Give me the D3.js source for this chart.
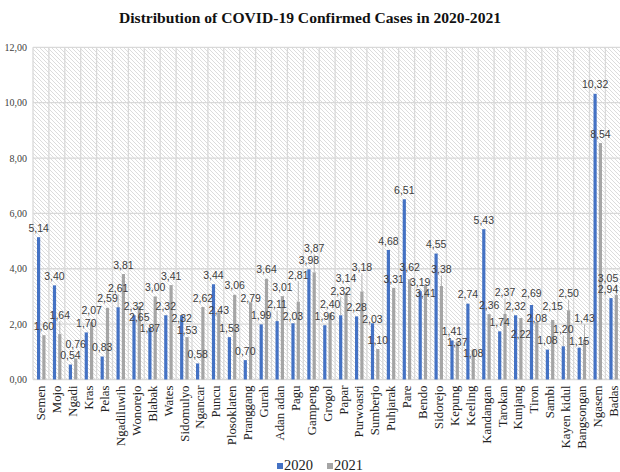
<!DOCTYPE html>
<html><head><meta charset="utf-8">
<script src="https://cdn.jsdelivr.net/npm/d3@7/dist/d3.min.js"></script>
<style>html,body{margin:0;padding:0;background:#fff;}svg{display:block;}</style>
</head><body>
<script>
const categories = ["Semen","Mojo","Ngadi","Kras","Pelas","Ngadiluwih","Wonorejo","Blabak","Wates","Sidomulyo","Ngancar","Puncu","Plosoklaten","Pranggang","Gurah","Adan adan","Pagu","Gampeng","Grogol","Papar","Purwoasri","Sumberjo","Puhjarak","Pare","Bendo","Sidorejo","Kepung","Keeling","Kandangan","Tarokan","Kunjang","Tiron","Sambi","Kayen kidul","Bangsongan","Ngasem","Badas"];
const values2020 = [5.14,3.40,0.54,1.70,0.83,2.61,2.32,1.87,2.32,2.32,0.58,3.44,1.53,0.70,1.99,2.11,2.03,3.98,1.96,2.32,2.28,2.03,4.68,6.51,3.19,4.55,1.41,2.74,5.43,1.74,2.32,2.69,1.08,1.20,1.15,10.32,2.94];
const values2021 = [1.60,1.64,0.76,2.07,2.59,3.81,2.65,3.00,3.41,1.53,2.62,2.43,3.06,2.79,3.64,3.01,2.81,3.87,2.40,3.14,3.18,1.10,3.31,3.62,3.41,3.38,1.37,1.08,2.36,2.37,2.22,2.08,2.15,2.50,1.43,8.54,3.05];
const seriesNames = ["2020","2021"];
const seriesColors = ["#4472c4","#a5a5a5"];
const yTicks = [0,2,4,6,8,10,12];
const title = "Distribution of COVID-19 Confirmed Cases in 2020-2021";

const W = 620, H = 472;
const mLeft = 33, mTop = 47.3, mBottom = 379.5;
const step = 15.9;
const svg = d3.select("body").append("svg").attr("width", W).attr("height", H);

const defs = svg.append("defs");
const pat = defs.append("pattern").attr("id","hatch").attr("patternUnits","userSpaceOnUse")
  .attr("width",4).attr("height",4);
pat.append("rect").attr("width",4).attr("height",4).attr("fill","#ffffff");
pat.append("path").attr("d","M-1,-1 L5,5 M-1,3 L1,5 M3,-1 L5,1").attr("stroke","#dcdcdc").attr("stroke-width",1);

const x0 = d3.scaleBand().domain(categories).range([mLeft, mLeft + categories.length*step]).padding(0);
const x1 = d3.scaleBand().domain(seriesNames).range([4, 12.5]).paddingInner(0.4);
const y = d3.scaleLinear().domain([0,12]).range([mBottom, mTop]);
const fmt = v => d3.format(".2f")(v).replace(".", ",");

// plot background
svg.append("rect").attr("x", mLeft).attr("y", mTop).attr("width", x0.range()[1]-mLeft).attr("height", mBottom-mTop)
  .attr("fill","url(#hatch)");

// horizontal grid
svg.append("g").selectAll("line").data(yTicks).join("line")
  .attr("x1", mLeft).attr("x2", x0.range()[1]).attr("y1", d=>y(d)).attr("y2", d=>y(d))
  .attr("stroke","#d9d9d9").attr("stroke-width",1.3);
// vertical grid
svg.append("g").selectAll("line").data(categories.concat(["__end"])).join("line")
  .attr("x1", (d,i)=>mLeft+i*step).attr("x2",(d,i)=>mLeft+i*step)
  .attr("y1", mTop).attr("y2", mBottom)
  .attr("stroke","#d9d9d9").attr("stroke-width",1.3);

// y axis
const yAxis = d3.axisLeft(y).tickValues(yTicks).tickFormat(fmt).tickSize(0).tickPadding(6);
const ga = svg.append("g").attr("transform",`translate(${mLeft},0)`).call(yAxis);
ga.select(".domain").remove();
ga.selectAll("text").attr("font-family","'Liberation Serif','Times New Roman',serif").attr("font-size","10px").attr("fill","#404040");

// bars
const data = categories.map((c,i)=>({cat:c, vals:[values2020[i], values2021[i]]}));
const groups = svg.append("g").selectAll("g").data(data).join("g")
  .attr("transform", d=>`translate(${x0(d.cat)},0)`);
groups.selectAll("rect").data(d=>d.vals.map((v,k)=>({s:seriesNames[k], v, k}))).join("rect")
  .attr("x", d=>x1(d.s)).attr("width", x1.bandwidth())
  .attr("y", d=>y(d.v)).attr("height", d=>mBottom - y(d.v))
  .attr("fill", d=>seriesColors[d.k]);

// x labels
const xAxis = d3.axisBottom(x0).tickSize(0).tickPadding(0);
const gx = svg.append("g").attr("transform",`translate(0,${mBottom})`).call(xAxis);
gx.select(".domain").remove();
gx.selectAll("text")
  .attr("font-family","'Liberation Serif','Times New Roman',serif").attr("font-size","12.8px").attr("fill","#222")
  .attr("transform","rotate(-90)").attr("text-anchor","end").attr("x",-6).attr("y",0).attr("dy","0.35em");

// data labels with simple collision avoidance
const labels = [];
data.forEach(d=>{
  d.vals.forEach((v,k)=>{
    const bx = x0(d.cat) + x1(seriesNames[k]) + x1.bandwidth()/2;
    labels.push({bx, by:y(v), text:fmt(v), k});
  });
});
const placed = [];
const lw = 22, lh = 10.5;
labels.forEach(l=>{
  const base = l.by - 9;
  let cx = Math.min(l.bx, W - 1 - lw/2);
  let cy = base;
  for (let n=0; n<60; n++){
    const off = (n % 2 === 0 ? -1 : 1) * Math.ceil(n/2) * 2.5;
    const cand = base + off;
    if (cand > mBottom - 6) continue;
    const hit = placed.some(p => Math.abs(p.cx - cx) < lw && Math.abs(p.cy - cand) < lh);
    if (!hit) { cy = cand; break; }
  }
  l.cx = cx; l.cy = cy;
  placed.push(l);
});
const gl = svg.append("g");
gl.selectAll("line").data(labels.filter(l=> l.by - l.cy > 15)).join("line")
  .attr("x1", l=>l.bx).attr("x2", l=>l.bx).attr("y1", l=>l.by).attr("y2", l=>l.cy+6)
  .attr("stroke","#a6a6a6").attr("stroke-width",0.8);
gl.selectAll("text").data(labels).join("text")
  .attr("x", l=>l.cx).attr("y", l=>l.cy).attr("dy","0.35em").attr("text-anchor","middle")
  .attr("font-family","'Liberation Sans',Arial,sans-serif").attr("font-size","10.5px").attr("fill","#404040")
  .text(l=>l.text);

// title
svg.append("text").attr("x", 310).attr("y", 23).attr("text-anchor","middle")
  .attr("font-family","'Liberation Serif','Times New Roman',serif").attr("font-weight","bold").attr("font-size","15.6px")
  .attr("fill","#111").text(title);

// legend
const lg = svg.append("g").attr("transform","translate(277,470)");
const items = lg.selectAll("g").data(seriesNames).join("g").attr("transform",(d,i)=>`translate(${i*50},0)`);
items.append("rect").attr("x",0).attr("y",-7).attr("width",6).attr("height",6).attr("fill",(d,i)=>seriesColors[i]);
items.append("text").attr("x",7).attr("y",0).text(d=>d)
  .attr("font-family","'Liberation Serif','Times New Roman',serif").attr("font-size","14.5px").attr("fill","#222");
</script>
</body></html>
